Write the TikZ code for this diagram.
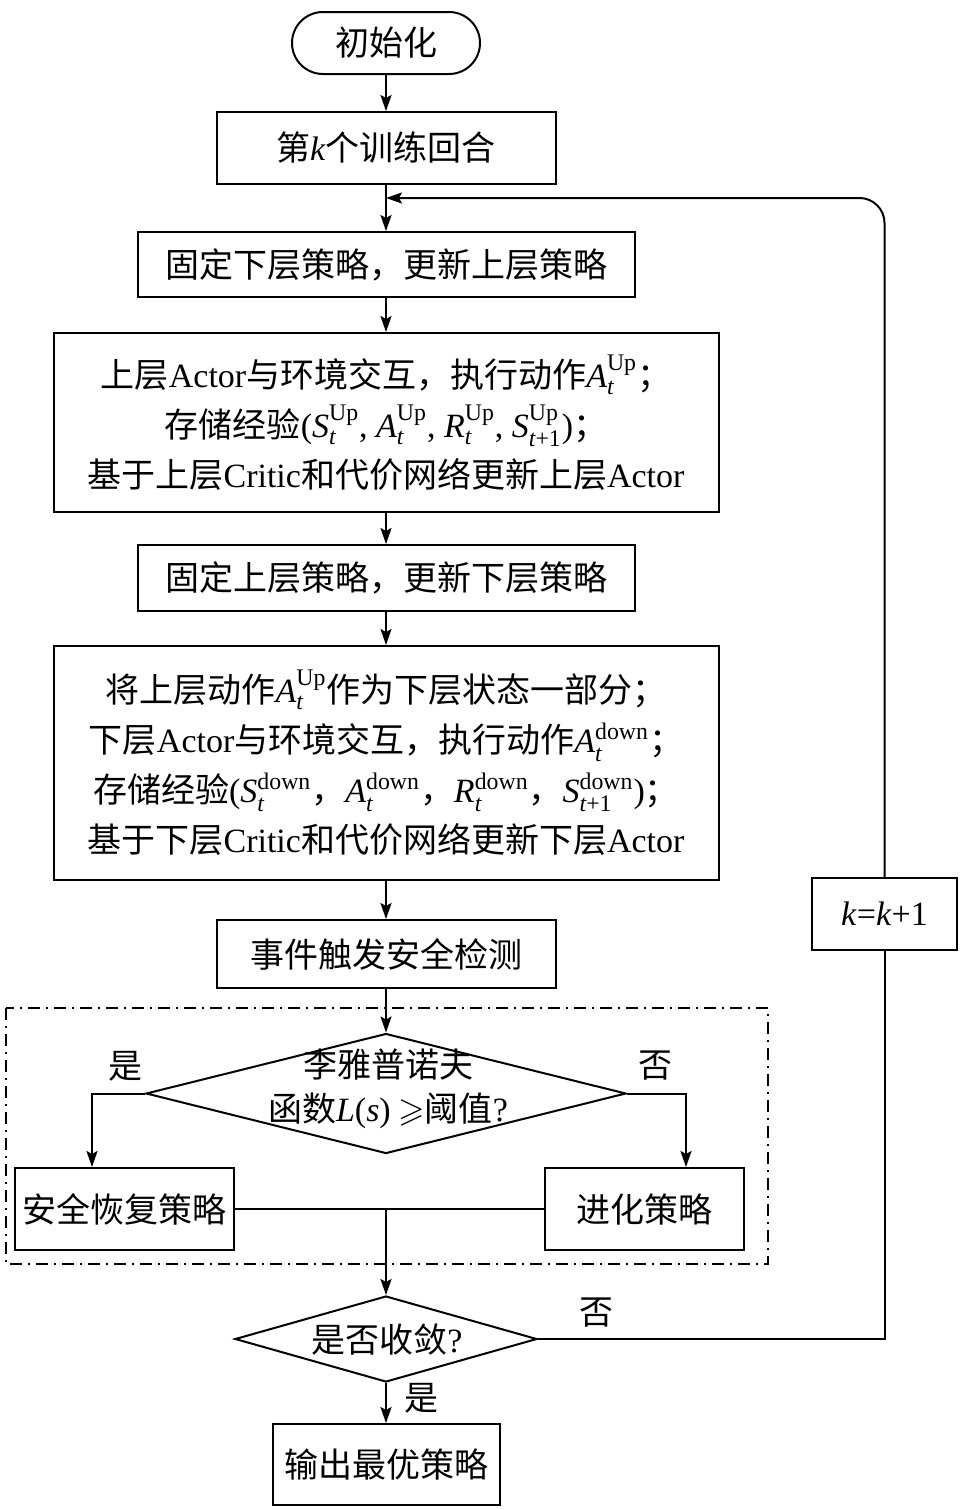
\documentclass[tikz,border=0pt]{standalone}
\usepackage{fontspec}
\usepackage{amsmath,amssymb}
\setmainfont{Liberation Serif}
\newfontfamily\cjk{Noto Sans CJK SC}
\usetikzlibrary{shapes.geometric,arrows.meta}
\newcommand\mi[1]{\textrm{\itshape #1}}
\newcommand\sv[3]{$\mi{#1}_{\mi{#2}}^{\textrm{#3}}$}
\newcommand\la[1]{\textrm{#1}}
\begin{document}
\begin{tikzpicture}[x=0.5pt,y=-0.5pt,
  every node/.style={font=\cjk\fontsize{17}{25}\selectfont, align=center, inner sep=0pt},
  box/.style={draw, line width=1pt, rectangle},
  flow/.style={line width=1pt, -{Stealth[length=8pt,width=5.5pt,inset=1.5pt]}},
  plain/.style={line width=1pt},
  dia/.style={draw, line width=1pt, diamond, inner sep=0pt}]
\useasboundingbox (0,0) rectangle (962,1510);

% nodes
\node[box, rounded corners=15.5pt, minimum width=94pt, minimum height=31pt] (init) at (386,43) {初始化};
\node[box, minimum width=169.5pt, minimum height=36pt] (k1) at (386,148) {第\mi{k}个训练回合};
\node[box, minimum width=248.5pt, minimum height=32.5pt] (b2) at (386,264.5) {固定下层策略，更新上层策略};
\node[box, minimum width=332.5pt, minimum height=89.5pt] (b3) at (386,422.5)
  {上层\la{Actor}与环境交互，执行动作\sv{A}{t}{Up}；\\
   存储经验\la{(}\sv{S}{t}{Up}\la{, }\sv{A}{t}{Up}\la{, }\sv{R}{t}{Up}\la{, }$\mi{S}_{\mi{t}\textrm{+1}}^{\textrm{Up}}$\la{)}；\\
   基于上层\la{Critic}和代价网络更新上层\la{Actor}};
\node[box, minimum width=248.5pt, minimum height=33pt] (b4) at (386,578) {固定上层策略，更新下层策略};
\node[box, minimum width=332.5pt, minimum height=117pt] (b5) at (386,763)
  {将上层动作\sv{A}{t}{Up}作为下层状态一部分；\\
   下层\la{Actor}与环境交互，执行动作\sv{A}{t}{down}；\\
   存储经验\la{(}\sv{S}{t}{down}，\sv{A}{t}{down}，\sv{R}{t}{down}，$\mi{S}_{\mi{t}\textrm{+1}}^{\textrm{down}}$\la{)}；\\
   基于下层\la{Critic}和代价网络更新下层\la{Actor}};
\node[box, minimum width=169.5pt, minimum height=34pt] (b6) at (386,954) {事件触发安全检测};

\draw[line width=0.8pt, dash pattern=on 6pt off 3pt on 1pt off 3pt] (6,1008) rectangle (768,1264);

\node[dia, minimum width=240pt, minimum height=60pt] (d1) at (386,1093.5) {};
\node[font=\cjk\fontsize{17}{22}\selectfont] (d1t) at (388,1089) {李雅普诺夫\\函数\mi{L}\la{(}\mi{s}\la{)} $\geqslant$阈值\la{?}};
\node[box, minimum width=109.5pt, minimum height=41pt] (s1) at (124.5,1209) {安全恢复策略};
\node[box, minimum width=99.5pt, minimum height=41pt] (s2) at (644.5,1209) {进化策略};

\node[dia, minimum width=151pt, minimum height=43pt] (d2) at (386,1339) {};
\node (d2t) at (387,1339) {是否收敛\la{?}};
\node[box, minimum width=113.5pt, minimum height=40.5pt] (out) at (386,1464.5) {输出最优策略};
\node[box, minimum width=72.5pt, minimum height=36pt] (kk) at (884.5,914) {\mi{k}\la{=}\mi{k}\la{+1}};

% labels
\node (y1) at (125,1066) {是};
\node (n1) at (655,1066) {否};
\node (n2) at (596,1313) {否};
\node (y2) at (421,1398) {是};

% coordinates
\coordinate (join) at (386,198);
\coordinate (yl) at (92,1093.5);
\coordinate (nr) at (686,1093.5);
\coordinate (m) at (386,1209);

% connectors
\draw[flow] (init) -- (k1);
\draw[flow] (k1) -- (b2);
\draw[flow] (b2) -- (b3);
\draw[flow] (b3) -- (b4);
\draw[flow] (b4) -- (b5);
\draw[flow] (b5) -- (b6);
\draw[flow] (b6) -- (d1.north);
\draw[flow] (d1.west) -- (yl) -- (yl |- s1.north);
\draw[flow] (d1.east) -- (nr) -- (nr |- s2.north);
\draw[plain] (s1.east) -- (s2.west);
\draw[flow] (m) -- (d2.north);
\draw[flow] (d2.south) -- (out.north);
\draw[plain] (d2.east) -| (kk.south);
\draw[flow, rounded corners=12.5pt] (kk.north) |- (join);
\end{tikzpicture}
\end{document}
